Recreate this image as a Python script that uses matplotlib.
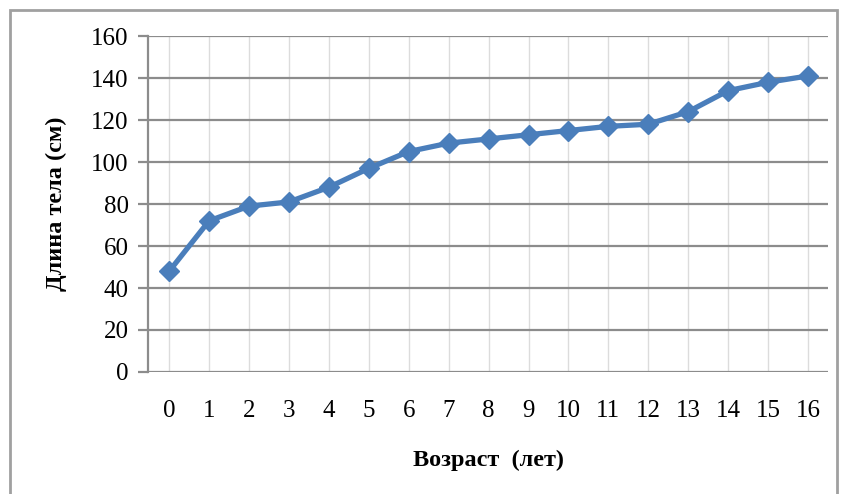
import matplotlib.pyplot as plt
from matplotlib.patches import Rectangle

# Age (years) and body length (cm)
age = [0, 1, 2, 3, 4, 5, 6, 7, 8, 9, 10, 11, 12, 13, 14, 15, 16]
length = [48, 72, 79, 81, 88, 97, 105, 109, 111, 113, 115, 117, 118, 124, 134, 138, 141]
y_ticks = [0, 20, 40, 60, 80, 100, 120, 140, 160]

plt.rcParams['font.family'] = ['Liberation Serif', 'DejaVu Serif']

fig = plt.figure(figsize=(8.42, 4.94), dpi=100)
ax = fig.add_axes([0.1758, 0.247, 0.8076, 0.680])

# outer chart frame (bottom edge is cut off in the reference)
fig.patches.append(Rectangle((10 / 842, -0.05), 827 / 842, 1 - 10 / 494 + 0.05,
                             transform=fig.transFigure, fill=False,
                             edgecolor='#a0a0a0', linewidth=2))

ax.plot(age, length, color='#4a7ebb', linewidth=3.8, marker='D',
        markersize=10, markerfacecolor='#4a7ebb', markeredgecolor='#4a7ebb',
        zorder=5, clip_on=False)

ax.set_xlim(-0.53, 16.5)
ax.set_ylim(0, 160)
ax.set_yticks(y_ticks)
ax.set_xticks(age)

# grid: dark horizontal, light vertical
for v in y_ticks:
    ax.axhline(v, color='#8c8c8c', linewidth=1.6, zorder=1)
for a in age:
    ax.axvline(a, color='#dcdcdc', linewidth=1.0, zorder=0)

for s in ['top', 'right', 'bottom']:
    ax.spines[s].set_visible(False)
ax.spines['left'].set_color('#8c8c8c')
ax.spines['left'].set_linewidth(1.6)

ax.tick_params(axis='y', length=7, width=1.6, color='#8c8c8c', labelsize=18, pad=7)
ax.tick_params(axis='x', length=0, labelsize=18, pad=20)

ax.set_xlabel('Возраст  (лет)', fontsize=17.5, fontweight='bold', labelpad=20)
ax.set_ylabel('Длина тела (см)', fontsize=17.5, fontweight='bold', labelpad=17)

fig.savefig('out.png', dpi=100)
